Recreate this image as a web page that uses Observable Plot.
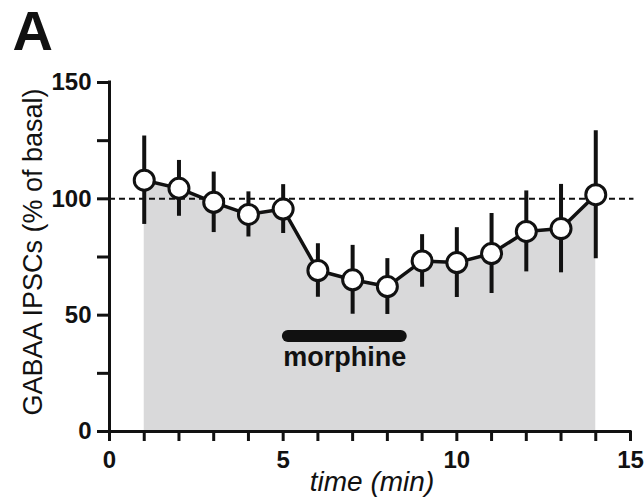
<!DOCTYPE html>
<html>
<head>
<meta charset="utf-8">
<script src="https://cdn.jsdelivr.net/npm/d3@7"></script>
<script src="https://cdn.jsdelivr.net/npm/@observablehq/plot@0.6"></script>
<style>
  html, body { margin: 0; padding: 0; background: #ffffff; }
  #chart { width: 644px; height: 503px; }
</style>
</head>
<body>
<div id="chart"></div>
<script>
// ---- data ----
const times = [1, 2, 3, 4, 5, 6, 7, 8, 9, 10, 11, 12, 13, 14];
const means = [108, 104.5, 98.5, 93.3, 95.6, 69.2, 65.2, 62.3, 73.3, 72.6, 76.5, 86, 87.2, 101.8];
const sems  = [19, 12, 13, 9.7, 10.5, 11.5, 14.8, 12, 11.3, 15, 17.2, 17.4, 19, 27.5];
const baseline = [100];
const morphineStart = 5.15;
const morphineEnd = 8.4;
const morphineLevel = 41;
const morphineLabel = "morphine";
const morphineLabelLevel = 28;
const xTicks = d3.range(0, 16, 1);
const xLabelTicks = [0, 5, 10, 15];
const yTicks = [0, 25, 50, 75, 100, 125, 150];
const yLabelTicks = [0, 50, 100, 150];
const panelLetter = "A";
const xLabel = "time (min)";
const yLabel = "GABAA IPSCs (% of basal)";

const data = times.map((t, i) => ({t, mean: means[i], sem: sems[i]}));
const font = "'Liberation Sans', Arial, Helvetica, sans-serif";

const chart = Plot.plot({
  width: 644,
  height: 503,
  marginLeft: 109,
  marginRight: 14,
  marginTop: 82,
  marginBottom: 72,
  style: {fontFamily: font, background: "#ffffff", overflow: "visible"},
  x: {domain: [0, 15]},
  y: {domain: [0, 150]},
  marks: [
    Plot.areaY(data, {x: "t", y: "mean", fill: "#d9d9da"}),
    Plot.ruleY(baseline, {x1: 0, x2: 15.1, stroke: "#111", strokeWidth: 2, strokeDasharray: "6,4"}),
    // axes lines
    Plot.ruleY([0], {x1: 0, x2: 15, stroke: "#111", strokeWidth: 3, strokeLinecap: "square"}),
    Plot.ruleX([0], {y1: 0, y2: 150, stroke: "#111", strokeWidth: 3, strokeLinecap: "square"}),
    Plot.axisX({
      ticks: xTicks, tickSize: 10, tickPadding: 9, strokeWidth: 3, stroke: "#111",
      tickFormat: d => xLabelTicks.includes(d) ? String(d) : "",
      fontSize: 24, fontWeight: "bold", fill: "#111", label: null
    }),
    Plot.axisY({
      ticks: yTicks, tickSize: 12, tickPadding: 6, strokeWidth: 3, stroke: "#111",
      tickFormat: d => yLabelTicks.includes(d) ? String(d) : "",
      fontSize: 24, fontWeight: "bold", fill: "#111", label: null
    }),
    // error bars
    Plot.ruleX(data, {x: "t", y1: d => d.mean - d.sem, y2: d => d.mean + d.sem, stroke: "#111", strokeWidth: 4}),
    Plot.line(data, {x: "t", y: "mean", stroke: "#111", strokeWidth: 3.5}),
    Plot.dot(data, {x: "t", y: "mean", r: 10, fill: "white", stroke: "#111", strokeWidth: 3}),
    // morphine bar
    Plot.ruleY([morphineLevel], {x1: morphineStart, x2: morphineEnd, stroke: "#111", strokeWidth: 12, strokeLinecap: "round"}),
    Plot.text([morphineLabel], {x: (morphineStart + morphineEnd) / 2, y: morphineLabelLevel, text: d => d,
      fontSize: 27, fontWeight: "bold", fill: "#111", textAnchor: "middle", lineAnchor: "bottom"}),
    // labels
    Plot.text([panelLetter], {frameAnchor: "top-left", text: d => d, dx: -97, dy: -33,
      fontSize: 56, fontWeight: "bold", fill: "#111", textAnchor: "start", lineAnchor: "bottom"}),
    Plot.text([yLabel], {frameAnchor: "left", text: d => d, dx: -76, dy: -5, rotate: -90,
      fontSize: 27, fill: "#111", textAnchor: "middle", lineAnchor: "middle"}),
    Plot.text([xLabel], {frameAnchor: "bottom", text: d => d, dx: 2, dy: 59,
      fontSize: 28, fontStyle: "italic", fill: "#111", textAnchor: "middle", lineAnchor: "bottom"})
  ]
});
document.getElementById("chart").appendChild(chart);
</script>
</body>
</html>
